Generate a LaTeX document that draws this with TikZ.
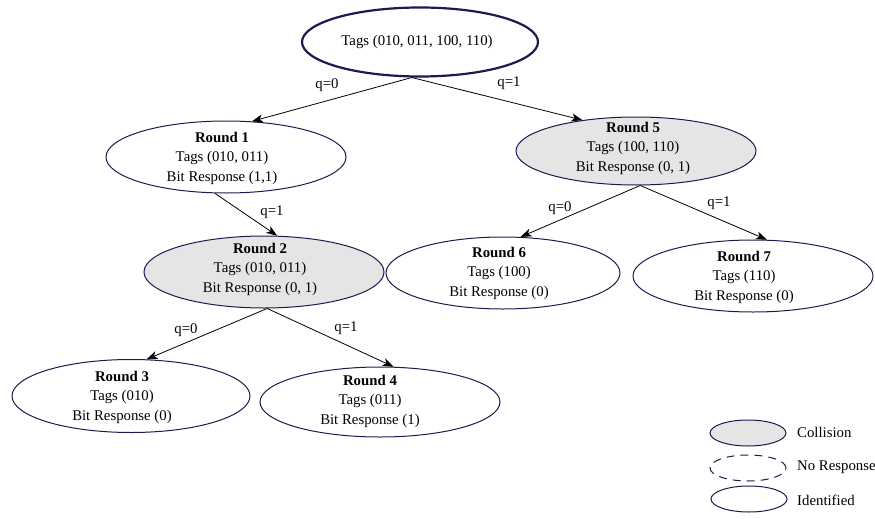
\documentclass[tikz,border=0pt]{standalone}
\usepackage{fontspec}
\setmainfont{Liberation Serif}
\usetikzlibrary{shapes.geometric,arrows.meta}
\definecolor{rim}{HTML}{1B1B4F}
\definecolor{clash}{HTML}{E5E5E5}
\begin{document}
\begin{tikzpicture}[x=1pt,y=-1pt,
  oval/.style={ellipse,draw=rim,line width=1pt,inner sep=0pt,minimum width=240pt,minimum height=72pt},
  collide/.style={oval,fill=clash},
  txt/.style={align=center,inner sep=0pt,font=\fontsize{14.8}{19.5}\selectfont},
  lbl/.style={inner sep=0pt,font=\fontsize{14.8}{17}\selectfont},
  link/.style={draw=black,line width=0.8pt,-{Stealth[length=11pt,width=8pt,inset=3pt]}},
  key/.style={ellipse,draw=rim,line width=1pt,inner sep=0pt,minimum width=76pt,minimum height=26pt}]
\useasboundingbox (0,0) rectangle (875,519);

% tree of rounds
\node[oval,line width=2.2pt,minimum width=236pt,minimum height=69pt] (top) at (420,42) {};
\node[txt] (topt) at (417,42) {Tags (010, 011, 100, 110)};

\node[oval] (r1) at (226,157) {};
\node[txt] (r1t) at (222,158) {\textbf{Round 1}\\Tags (010, 011)\\Bit Response (1,1)};

\node[collide,minimum height=68pt] (r5) at (636,151) {};
\node[txt] (r5t) at (633,148) {\textbf{Round 5}\\Tags (100, 110)\\Bit Response (0, 1)};

\node[collide] (r2) at (264,272) {};
\node[txt] (r2t) at (260,269) {\textbf{Round 2}\\Tags (010, 011)\\Bit Response (0, 1)};

\node[oval,minimum width=234pt] (r6) at (503,273) {};
\node[txt] (r6t) at (499,273) {\textbf{Round 6}\\Tags (100)\\Bit Response (0)};

\node[oval] (r7) at (753,276) {};
\node[txt] (r7t) at (744,277) {\textbf{Round 7}\\Tags (110)\\Bit Response (0)};

\node[oval,minimum width=238pt,minimum height=73pt] (r3) at (131,396) {};
\node[txt] (r3t) at (122,397) {\textbf{Round 3}\\Tags (010)\\Bit Response (0)};

\node[oval,minimum height=70pt] (r4) at (380,402) {};
\node[txt] (r4t) at (370,401) {\textbf{Round 4}\\Tags (011)\\Bit Response (1)};

% branches
\draw[link] (top.257) -- (r1.54);
\draw[link] (top.257) -- (r5.150);
\draw[link] (r1.253) -- (r2.70);
\draw[link] (r5.277) -- (r6.64);
\draw[link] (r5.277) -- (r7.69);
\draw[link] (r2.275) -- (r3.67);
\draw[link] (r2.275) -- (r4.69);

% branch labels
\node[lbl] (q01) at (327,85) {q=0};
\node[lbl] (q11) at (509,83) {q=1};
\node[lbl] (q12) at (272,212) {q=1};
\node[lbl] (q05) at (560,208) {q=0};
\node[lbl] (q15) at (719,203) {q=1};
\node[lbl] (q02) at (186,330) {q=0};
\node[lbl] (q13) at (346,328) {q=1};

% legend
\node[key,fill=clash] (kc) at (748,433) {};
\node[key,dash pattern=on 8pt off 6pt] (kn) at (748,468) {};
\node[key] (ki) at (749,499) {};
\node[lbl,anchor=west] (kct) at (797,432) {Collision};
\node[lbl,anchor=west] (knt) at (797,467) {No Response};
\node[lbl,anchor=west] (kit) at (797,500) {Identified};
\end{tikzpicture}
\end{document}
